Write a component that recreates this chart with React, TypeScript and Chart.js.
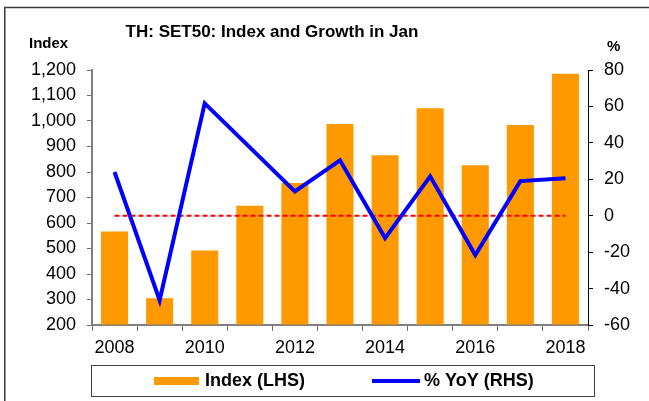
import React, { useEffect, useRef } from "react";
import { Chart, registerables } from "chart.js";

Chart.register(...registerables);

const years = ["2008", "2009", "2010", "2011", "2012", "2013", "2014", "2015", "2016", "2017", "2018"];
const indexValues = [567, 305, 492, 668, 757, 988, 866, 1050, 826, 984, 1185];
const yoyValues = [24.0, -46.4, 61.7, 37.5, 13.3, 30.4, -12.3, 21.6, -21.6, 19.0, 20.6];
const zeroLine = [0, 0, 0, 0, 0, 0, 0, 0, 0, 0, 0];

const titleText = "TH: SET50: Index and Growth in Jan";
const leftAxisTitle = "Index";
const rightAxisTitle = "%";
const indexLabel = "Index (LHS)";
const yoyLabel = "% YoY (RHS)";

const FONT = '"Liberation Sans", Arial, Helvetica, sans-serif';

const decorPlugin = {
  id: "decor",
  afterDraw(chart: any) {
    const ctx = chart.ctx as CanvasRenderingContext2D;
    ctx.save();
    // outer frame
    ctx.strokeStyle = "#3a3a3a";
    ctx.lineWidth = 1.5;
    ctx.beginPath();
    ctx.moveTo(4.75, 401);
    ctx.lineTo(4.75, 7.5);
    ctx.lineTo(649, 7.5);
    ctx.stroke();

    ctx.fillStyle = "#000";
    ctx.textBaseline = "middle";
    ctx.font = `bold 17px ${FONT}`;
    ctx.textAlign = "center";
    ctx.fillText(titleText, 272, 32);

    ctx.font = `bold 15px ${FONT}`;
    ctx.textAlign = "left";
    ctx.fillText(leftAxisTitle, 29, 44);
    ctx.fillText(rightAxisTitle, 607, 47);

    // legend box
    ctx.lineWidth = 1;
    ctx.strokeStyle = "#404040";
    ctx.strokeRect(91.5, 365.5, 503, 31);

    const ds = chart.data.datasets;
    ctx.fillStyle = ds[0].backgroundColor;
    ctx.fillRect(154, 377, 45, 8);
    ctx.strokeStyle = ds[1].borderColor;
    ctx.lineWidth = 4;
    ctx.beginPath();
    ctx.moveTo(372, 381);
    ctx.lineTo(420, 381);
    ctx.stroke();

    ctx.fillStyle = "#000";
    ctx.font = `bold 18px ${FONT}`;
    ctx.textAlign = "left";
    ctx.fillText(ds[0].label, 205, 381.5);
    ctx.fillText(ds[1].label, 424, 381.5);
    ctx.restore();
  },
};

export default function App() {
  const ref = useRef<HTMLCanvasElement | null>(null);

  useEffect(() => {
    if (!ref.current) return;
    const chart = new Chart(ref.current, {
      type: "bar",
      data: {
        labels: years,
        datasets: [
          {
            type: "bar",
            label: indexLabel,
            data: indexValues,
            backgroundColor: "#FF9900",
            borderWidth: 0,
            yAxisID: "y",
            base: 200,
            categoryPercentage: 1,
            barPercentage: 0.6,
            order: 3,
          } as any,
          {
            type: "line",
            label: yoyLabel,
            data: yoyValues,
            borderColor: "#0000FF",
            backgroundColor: "#0000FF",
            borderWidth: 4,
            pointRadius: 0,
            tension: 0,
            yAxisID: "y1",
            order: 1,
          },
          {
            type: "line",
            label: "zero",
            data: zeroLine,
            borderColor: "#FF0000",
            borderWidth: 2,
            borderDash: [5, 3],
            pointRadius: 0,
            yAxisID: "y1",
            order: 2,
          },
        ],
      },
      options: {
        responsive: false,
        animation: false,
        devicePixelRatio: 1,
        layout: { padding: { top: 70, left: 0, right: 0, bottom: 0 } },
        plugins: {
          legend: { display: false },
          title: { display: false },
          tooltip: { enabled: false },
        },
        scales: {
          x: {
            type: "category",
            offset: true,
            grid: {
              display: true,
              offset: true,
              drawOnChartArea: false,
              drawTicks: true,
              tickLength: 6,
              color: "#707070",
            },
            border: { display: true, color: "#808080", width: 2 },
            ticks: {
              autoSkip: false,
              maxRotation: 0,
              padding: 6,
              color: "#000",
              font: { family: FONT, size: 18 },
              callback: (_v: any, i: number) => (i % 2 === 0 ? years[i] : ""),
            },
            afterFit: (s: any) => {
              s.height = 76;
            },
          },
          y: {
            type: "linear",
            position: "left",
            min: 200,
            max: 1200,
            grid: { drawOnChartArea: false, drawTicks: true, tickLength: 5, color: "#707070" },
            border: { display: true, color: "#808080", width: 2 },
            ticks: {
              stepSize: 100,
              padding: 11,
              color: "#000",
              font: { family: FONT, size: 18 },
              callback: (v: any) => Number(v).toLocaleString("en-US"),
            },
            afterFit: (s: any) => {
              s.width = 92;
            },
          },
          y1: {
            type: "linear",
            position: "right",
            min: -60,
            max: 80,
            grid: { drawOnChartArea: false, drawTicks: true, tickLength: 5, color: "#000" },
            border: { display: true, color: "#000", width: 1 },
            ticks: {
              stepSize: 20,
              padding: 11,
              color: "#000",
              font: { family: FONT, size: 18 },
            },
            afterFit: (s: any) => {
              s.width = 61;
            },
          },
        },
      },
      plugins: [decorPlugin],
    });
    return () => chart.destroy();
  }, []);

  return (
    <div style={{ position: "absolute", left: 0, top: 0, width: 649, height: 401, background: "#fff" }}>
      <canvas ref={ref} width={649} height={401} style={{ width: 649, height: 401, display: "block" }} />
    </div>
  );
}
